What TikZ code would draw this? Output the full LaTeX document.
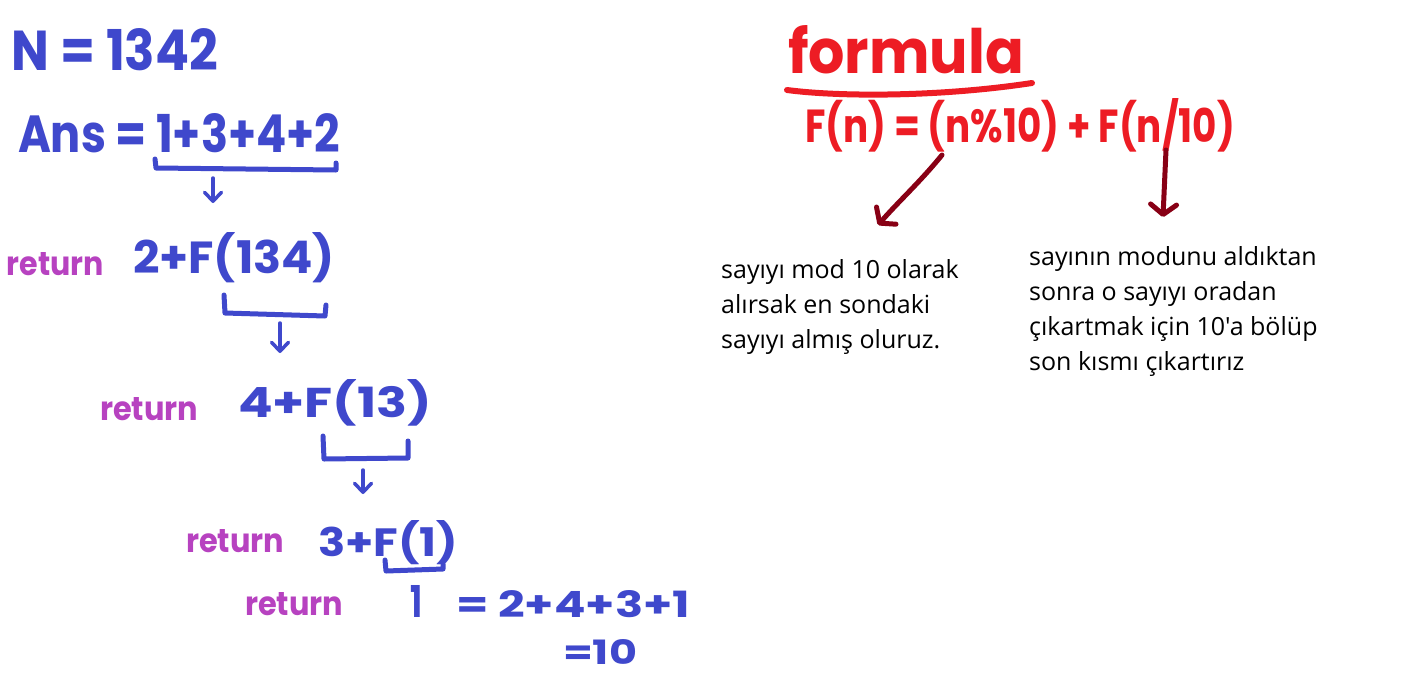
\documentclass[tikz,border=0pt]{standalone}
\usepackage{fontspec}
\usepackage{graphicx}
\newfontfamily\notefont{Open Sans}
\newfontfamily\handfont{Poppins}
\usetikzlibrary{arrows.meta}
\definecolor{hblue}{RGB}{63,72,204}
\definecolor{hpurple}{RGB}{183,66,192}
\definecolor{hred}{RGB}{237,28,36}
\definecolor{hdark}{RGB}{136,0,21}
\newcommand{\fitto}[3]{\resizebox{#1pt}{#2pt}{#3}}
\begin{document}
\begin{tikzpicture}[x=1pt,y=-1pt,
  hw/.style={inner sep=0pt, outer sep=0pt, anchor=base west, font=\handfont\bfseries},
  bluetext/.style={hw, text=hblue},
  rettext/.style={hw, text=hpurple},
  redtext/.style={hw, text=hred},
  bracket/.style={line width=5pt, line cap=round, line join=round, draw=hblue},
  downarrow/.style={line width=3.5pt, line cap=round, line join=round, draw=hblue,
    -{Straight Barb[length=9pt,width=17pt,line cap=round,line join=round]}},
  redarrow/.style={line width=5pt, line cap=round, line join=round, draw=hdark,
    -{Straight Barb[length=10pt,width=26pt,line cap=round,line join=round]}},
  note/.style={inner sep=0pt, anchor=north west, align=left,
    font=\notefont\fontsize{25}{35}\selectfont, text=black}
]
\useasboundingbox[fill=white] (0,0) rectangle (1416,672);

% left column
\node[bluetext] (N) at (12,70) {\fitto{206}{42}{N = 1342}};
\node[bluetext] (ans) at (18,152) {\fitto{322}{39}{Ans = 1+3+4+2}};
\draw[bracket] (155,159) -- (156,168) -- (336,170) -- (336,163);
\coordinate (a1s) at (213,178);
\coordinate (a1e) at (213,203);
\draw[downarrow] (a1s) -- (a1e);

\node[rettext] (r1) at (7,275) {\fitto{97}{23}{return}};
\node[bluetext] (e1) at (133,273) {\fitto{202}{41}{2+F(134)}};
\draw[bracket] (224,295) -- (225,313) -- (325,316) -- (326,305);
\coordinate (a2s) at (280,323);
\coordinate (a2e) at (280,353);
\draw[downarrow] (a2s) -- (a2e);

\node[rettext] (r2) at (100,420) {\fitto{98}{23}{return}};
\node[bluetext] (e2) at (238,417) {\fitto{194}{38}{4+F(13)}};
\draw[bracket] (323,436) -- (324,459) -- (408,458) -- (408,441);
\coordinate (a3s) at (363,470);
\coordinate (a3e) at (363,494);
\draw[downarrow] (a3s) -- (a3e);

\node[rettext] (r3) at (186,552) {\fitto{98}{23}{return}};
\node[bluetext] (e3) at (318,556) {\fitto{140}{36}{3+F(1)}};
\draw[bracket] (385,560) -- (386,571) -- (443,569) -- (443,564);

\node[rettext] (r4) at (245,615) {\fitto{98}{23}{return}};
\node[bluetext] (one) at (410,617) {\fitto{12}{32}{1}};
\node[bluetext] (sum) at (456,617) {\fitto{234}{27}{= 2+4+3+1}};
\node[bluetext] (ten) at (563,664) {\fitto{74}{25}{=10}};

% right part
\node[redtext] (fml) at (788,73) {\fitto{236}{48}{formula}};
\draw[line width=6pt, line cap=round, line join=round, draw=hred]
  (787,90) .. controls (840,97) and (940,97) .. (1032,83);
\node[redtext] (eq) at (805,142) {\fitto{430}{44}{F(n) = (n\%10) + F(n/10)}};

\coordinate (m1) at (942,155);
\coordinate (m1e) at (878,225);
\draw[redarrow] (m1) .. controls (920,182) and (900,200) .. (m1e);
\coordinate (m2) at (1166,150);
\coordinate (m2e) at (1163,217);
\draw[redarrow] (m2) -- (m2e);

\node[note] (t1) at (721,259) {sayıyı mod 10 olarak\\alırsak en sondaki\\sayıyı almış oluruz.};
\node[note] (t2) at (1029,246) {sayının modunu aldıktan\\sonra o sayıyı oradan\\çıkartmak için 10'a bölüp\\son kısmı çıkartırız};
\end{tikzpicture}
\end{document}
